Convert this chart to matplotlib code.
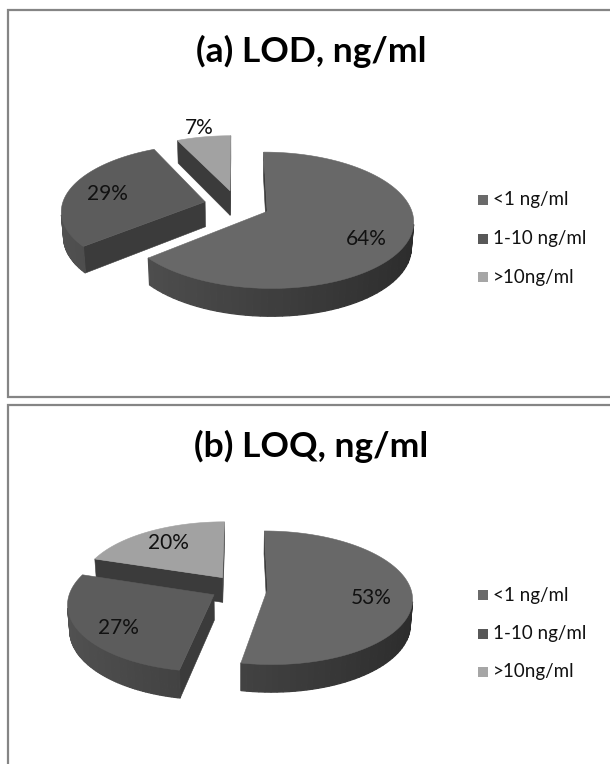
import numpy as np
import matplotlib.pyplot as plt
from matplotlib.patches import Polygon

plt.rcParams['font.family'] = ['Lato', 'DejaVu Sans']

categories = ['<1 ng/ml', '1-10 ng/ml', '>10ng/ml']
lod_values = [64, 29, 7]
loq_values = [53, 27, 20]
titles = ['(a) LOD, ng/ml', '(b) LOQ, ng/ml']

top_colors = ['#686868', '#5c5c5c', '#a2a2a2']
legend_colors = ['#6a6a6a', '#585858', '#a6a6a6']
radial_wall = '#3b3b3b'

# fake 3d view
phi = np.radians(27.2)
dist = 7.0
R = 143.0
h = 0.2
cam = np.array([0.0, -dist * np.cos(phi), dist * np.sin(phi)])


def proj(X, Y, Z, c):
    d = Y * np.cos(phi) - Z * np.sin(phi)
    s = dist / (dist + d)
    xv = X * s
    yv = (Y * np.sin(phi) + Z * np.cos(phi)) * s
    return c[0] + R * xv, c[1] - R * yv


def visible(n, p):
    return np.dot(n, cam - p) > 0


def shade(t):
    g = 0.245 - 0.075 * np.cos(t)
    return (g, g, g)


def poly(ax, pts, color, z, lw=0.4):
    ax.add_patch(Polygon(pts, closed=True, facecolor=color, edgecolor=color,
                         lw=lw, zorder=z))


def pie3d(ax, values, c, explode, r_in=0.72, r_out=1.2):
    vals = np.array(values, dtype=float)
    frac = vals / vals.sum()
    cum = np.concatenate([[0], np.cumsum(frac)])
    slices = []
    for i in range(len(vals)):
        t1 = np.pi / 2 - cum[i] * 2 * np.pi
        t2 = np.pi / 2 - cum[i + 1] * 2 * np.pi
        tm = (t1 + t2) / 2
        ox, oy = explode * np.cos(tm), explode * np.sin(tm)
        slices.append((i, t1, t2, tm, ox, oy))
    # back slices first
    slices.sort(key=lambda s: -s[5])
    z = 2
    for i, t1, t2, tm, ox, oy in slices:
        ts = np.linspace(t1, t2, 90)
        # radial walls
        for t, nsign in [(t1, 1), (t2, -1)]:
            n = np.array([np.cos(t + nsign * np.pi / 2), np.sin(t + nsign * np.pi / 2), 0])
            mid = np.array([ox + 0.5 * np.cos(t), oy + 0.5 * np.sin(t), -h / 2])
            if visible(n, mid):
                pts = [proj(ox, oy, 0, c), proj(ox + np.cos(t), oy + np.sin(t), 0, c),
                       proj(ox + np.cos(t), oy + np.sin(t), -h, c), proj(ox, oy, -h, c)]
                poly(ax, pts, radial_wall, z)
        z += 1
        # outer wall
        for k in range(len(ts) - 1):
            ta, tb = ts[k], ts[k + 1]
            tc = (ta + tb) / 2
            n = np.array([np.cos(tc), np.sin(tc), 0])
            p = np.array([ox + np.cos(tc), oy + np.sin(tc), -h / 2])
            if not visible(n, p):
                continue
            pts = [proj(ox + np.cos(ta), oy + np.sin(ta), 0, c),
                   proj(ox + np.cos(tb), oy + np.sin(tb), 0, c),
                   proj(ox + np.cos(tb), oy + np.sin(tb), -h, c),
                   proj(ox + np.cos(ta), oy + np.sin(ta), -h, c)]
            poly(ax, pts, shade(tc), z, lw=0.9)
        z += 1
        # top face
        pts = [proj(ox, oy, 0, c)] + [proj(ox + np.cos(t), oy + np.sin(t), 0, c) for t in ts]
        poly(ax, pts, top_colors[i], z)
        z += 1
        if frac[i] > 0.1:
            lx, ly = proj(ox + r_in * np.cos(tm), oy + r_in * np.sin(tm), 0, c)
            ly += 4 - 6 * np.sin(tm)
        else:
            lx, ly = proj(ox + r_out * np.cos(tm), oy + r_out * np.sin(tm), 0, c)
        ax.text(lx, ly, f'{values[i]:.0f}%', fontsize=15, color='#111111',
                ha='center', va='center', zorder=50)


fig = plt.figure(figsize=(6.10, 7.64), dpi=100)
ax = fig.add_axes([0, 0, 1, 1])
ax.set_xlim(0, 610)
ax.set_ylim(764, 0)
ax.axis('off')

frame = '#858585'
# panel frames
ax.plot([610, 8, 8, 610], [10, 10, 397, 397], color=frame, lw=1.6, solid_joinstyle='miter')
ax.plot([610, 8, 8], [405, 405, 764], color=frame, lw=1.6, solid_joinstyle='miter')

panels = [(lod_values, (237, 205), 0.23, 0), (loq_values, (239, 588), 0.2, 395)]
for (vals, c, ex, dy), title in zip(panels, titles):
    ax.text(311, 51 + dy, title, fontsize=25.5, fontweight='bold', ha='center',
            va='center', color='black')
    pie3d(ax, vals, c, ex)
    for k, (lab, col) in enumerate(zip(categories, legend_colors)):
        y = 200 + dy + k * 38.5
        ax.add_patch(Polygon([(478, y - 5), (488, y - 5), (488, y + 5), (478, y + 5)],
                             closed=True, facecolor=col, edgecolor='none'))
        ax.text(493, y, lab, fontsize=13.5, va='center', ha='left', color='#111111')

fig.savefig('out.png', dpi=100)
